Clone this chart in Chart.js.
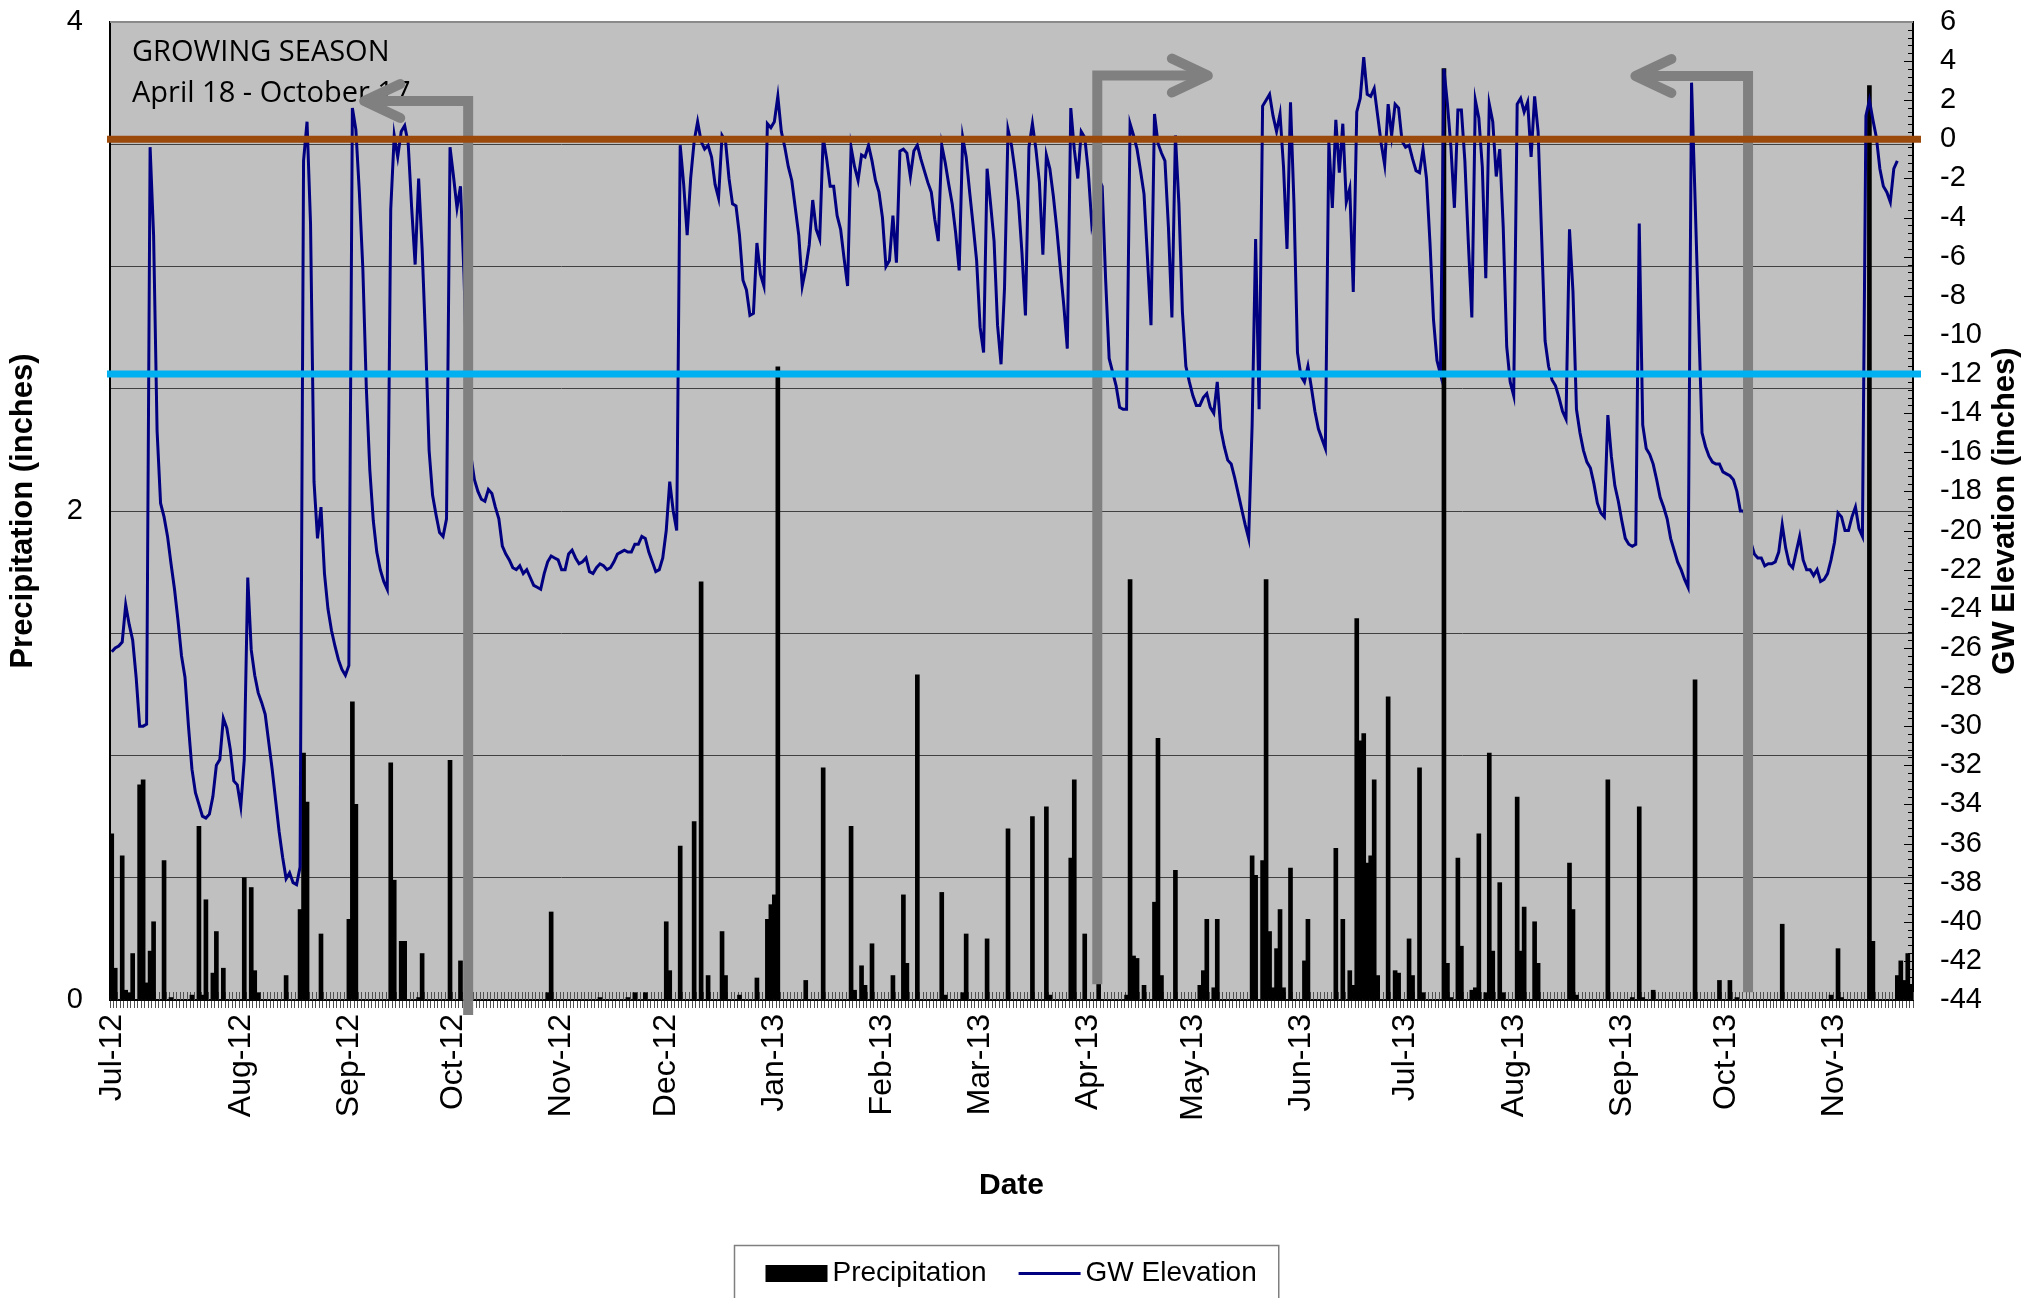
<!DOCTYPE html>
<html><head><meta charset="utf-8">
<script src="https://cdn.jsdelivr.net/npm/chart.js@4.4.0/dist/chart.umd.min.js"></script>
<style>html,body{margin:0;padding:0;background:#fff;}canvas{display:block;}</style>
</head><body>
<canvas id="c" width="2028" height="1298"></canvas>
<script>
// ---------- data ----------
const startDate = '2012-06-25';
const dayCount = 517;
const monthTickDates = ['2012-06-25','2012-08-01','2012-09-01','2012-10-01','2012-11-01','2012-12-01','2013-01-01','2013-02-01','2013-03-01','2013-04-01','2013-05-01','2013-06-01','2013-07-01','2013-08-01','2013-09-01','2013-10-01','2013-11-01'];
const monthTickLabels = ['Jul-12','Aug-12','Sep-12','Oct-12','Nov-12','Dec-12','Jan-13','Feb-13','Mar-13','Apr-13','May-13','Jun-13','Jul-13','Aug-13','Sep-13','Oct-13','Nov-13'];

// GW elevation (inches), one value per day from startDate
const gwElevation = [
-26.2,-26.0,-25.9,-25.7,-23.8,-24.8,-25.6,-27.5,-30.0,-30.0,
-29.9,-0.4,-4.9,-14.9,-18.6,-19.3,-20.3,-21.7,-23.0,-24.6,
-26.4,-27.5,-30.0,-32.2,-33.4,-34.0,-34.6,-34.7,-34.5,-33.6,
-32.0,-31.7,-29.6,-30.1,-31.2,-32.8,-33.0,-34.1,-31.7,-22.4,
-26.1,-27.4,-28.3,-28.8,-29.4,-30.8,-32.2,-33.8,-35.4,-36.7,
-37.8,-37.5,-38.0,-38.1,-37.2,-1.1,0.9,-4.3,-17.5,-20.4,
-18.8,-22.2,-24.0,-25.1,-25.9,-26.6,-27.1,-27.4,-26.9,1.6,
0.5,-2.7,-6.6,-12.7,-16.9,-19.5,-21.1,-22.0,-22.6,-23.0,
-3.6,0.2,-0.9,0.4,0.7,-0.2,-3.5,-6.4,-2.0,-5.6,
-10.3,-15.9,-18.2,-19.2,-20.1,-20.3,-19.4,-0.4,-1.9,-3.5,
-2.4,-6.9,-13.0,-16.2,-17.4,-18.0,-18.4,-18.5,-17.9,-18.1,
-18.8,-19.4,-20.8,-21.2,-21.5,-21.9,-22.0,-21.8,-22.2,-22.0,
-22.4,-22.8,-22.9,-23.0,-22.2,-21.6,-21.3,-21.4,-21.5,-22.0,
-22.0,-21.2,-21.0,-21.4,-21.7,-21.6,-21.4,-22.1,-22.2,-21.9,
-21.7,-21.8,-22.0,-21.9,-21.6,-21.2,-21.1,-21.0,-21.1,-21.1,
-20.7,-20.7,-20.3,-20.4,-21.1,-21.6,-22.1,-22.0,-21.4,-20.0,
-17.5,-19.0,-20.0,-0.3,-2.3,-4.9,-2.0,-0.1,0.9,-0.1,
-0.5,-0.3,-0.9,-2.3,-3.0,0.2,-0.1,-2.0,-3.3,-3.4,
-4.9,-7.2,-7.7,-9.0,-8.9,-5.3,-6.9,-7.5,0.8,0.6,
0.9,2.2,0.4,-0.4,-1.4,-2.1,-3.5,-4.9,-7.5,-6.6,
-5.4,-3.1,-4.6,-5.1,0.1,-1.0,-2.4,-2.4,-3.9,-4.6,
-6.1,-7.5,-0.4,-1.4,-2.1,-0.8,-0.9,-0.3,-1.1,-2.1,
-2.7,-4.0,-6.5,-6.2,-3.9,-6.3,-0.6,-0.5,-0.7,-1.9,
-0.6,-0.3,-1.0,-1.6,-2.2,-2.7,-4.1,-5.2,-0.3,-1.2,
-2.3,-3.3,-4.8,-6.7,0.1,-0.9,-2.7,-4.4,-6.2,-9.6,
-10.9,-1.5,-3.3,-5.2,-9.5,-11.5,-7.6,0.5,-0.3,-1.6,
-3.2,-5.8,-9.0,-0.4,0.8,-0.5,-2.2,-5.9,-0.8,-1.5,
-2.9,-4.6,-6.6,-8.5,-10.7,1.6,-0.5,-2.0,0.4,0.1,
-1.6,-4.3,-3.3,-2.0,-2.4,-7.2,-11.2,-11.9,-12.6,-13.7,
-13.8,-13.8,0.8,0.2,-0.5,-1.6,-2.8,-6.1,-9.5,1.3,
-0.2,-0.7,-1.1,-4.5,-9.1,0.2,-3.3,-8.8,-11.6,-12.4,
-13.1,-13.6,-13.6,-13.2,-13.0,-13.7,-14.0,-12.4,-14.8,-15.7,
-16.4,-16.6,-17.3,-18.1,-18.9,-19.7,-20.4,-14.6,-5.1,-13.8,
1.7,2.0,2.3,1.2,0.4,1.3,-1.4,-5.6,1.9,-3.3,
-10.9,-12.1,-12.4,-11.6,-12.7,-13.9,-14.8,-15.3,-15.8,-0.1,
-3.5,1.0,-1.7,0.8,-3.2,-2.5,-7.8,1.4,2.1,4.2,
2.3,2.2,2.6,1.2,-0.2,-1.3,1.8,0.2,1.8,1.6,
-0.1,-0.4,-0.3,-1.0,-1.6,-1.7,-0.5,-2.0,-5.3,-9.2,
-11.3,-12.0,3.6,1.8,-0.4,-3.5,1.5,1.5,-1.1,-5.3,
-9.1,2.0,1.1,-1.4,-7.1,1.8,0.9,-1.9,-0.5,-4.5,
-10.6,-12.4,-13.1,1.8,2.1,1.4,1.9,-0.9,2.2,0.4,
-4.9,-10.3,-11.6,-12.3,-12.6,-13.2,-13.9,-14.3,-4.6,-7.8,
-13.8,-15.0,-15.9,-16.5,-16.8,-17.6,-18.6,-19.1,-19.3,-14.1,
-16.2,-17.7,-18.5,-19.5,-20.4,-20.7,-20.8,-20.7,-4.3,-14.6,
-15.8,-16.1,-16.6,-17.4,-18.3,-18.8,-19.4,-20.4,-21.0,-21.6,
-22.0,-22.5,-22.9,2.9,-3.0,-9.1,-15.0,-15.7,-16.2,-16.5,
-16.6,-16.6,-17.0,-17.1,-17.2,-17.4,-18.0,-19.0,-19.0,-19.8,
-20.6,-21.2,-21.4,-21.4,-21.8,-21.7,-21.7,-21.6,-21.1,-19.7,
-20.9,-21.7,-21.9,-21.1,-20.3,-21.5,-22.0,-22.0,-22.3,-22.0,
-22.6,-22.5,-22.2,-21.5,-20.6,-19.1,-19.3,-20.0,-20.0,-19.3,
-18.8,-19.9,-20.3,1.2,2.0,1.0,0.1,-1.5,-2.4,-2.7,
-3.2,-1.5,-1.1
];

// Precipitation (inches): day offsets from startDate with rain, and amounts
const precipDay = [0,1,3,4,5,6,8,9,10,11,12,15,17,23,25,26,27,29,30,32,38,40,41,42,50,54,55,56,60,68,69,70,80,81,83,84,88,89,97,100,125,126,140,148,150,153,159,160,163,167,169,171,175,176,180,185,188,189,190,191,199,204,212,213,215,216,218,224,227,228,231,238,239,244,245,251,257,264,268,269,275,276,279,283,291,292,293,294,296,299,300,301,305,312,313,314,316,317,327,328,330,331,332,333,334,335,336,338,342,343,351,353,355,356,357,358,359,360,361,362,363,366,368,369,372,373,375,376,382,383,384,386,387,390,391,392,394,395,396,398,399,403,404,405,408,409,418,419,420,429,436,438,439,442,454,461,464,466,479,493,495,496,504,505,512,513,514,515,516];
const precipInches = [0.68,0.13,0.59,0.04,0.03,0.19,0.88,0.90,0.07,0.20,0.32,0.57,0.01,0.02,0.71,0.02,0.41,0.11,0.28,0.13,0.50,0.46,0.12,0.03,0.10,0.37,1.01,0.81,0.27,0.33,1.22,0.80,0.97,0.49,0.24,0.24,0.01,0.19,0.98,0.16,0.03,0.36,0.01,0.01,0.03,0.03,0.32,0.12,0.63,0.73,1.71,0.10,0.28,0.10,0.02,0.09,0.33,0.39,0.43,2.59,0.08,0.95,0.71,0.04,0.14,0.06,0.23,0.10,0.43,0.15,1.33,0.44,0.02,0.03,0.27,0.25,0.70,0.75,0.79,0.02,0.58,0.90,0.27,0.33,0.02,1.72,0.18,0.17,0.06,0.40,1.07,0.10,0.53,0.06,0.12,0.33,0.05,0.33,0.59,0.51,0.57,1.72,0.28,0.05,0.21,0.37,0.05,0.54,0.16,0.33,0.62,0.33,0.12,0.06,1.56,1.06,1.09,0.56,0.59,0.90,0.10,1.24,0.12,0.11,0.25,0.10,0.95,0.03,3.81,0.15,0.01,0.58,0.22,0.04,0.05,0.68,0.03,1.01,0.20,0.48,0.03,0.83,0.20,0.38,0.32,0.15,0.56,0.37,0.02,0.90,0.01,0.79,0.01,0.04,1.31,0.08,0.08,0.01,0.31,0.02,0.21,0.01,3.74,0.24,0.10,0.16,0.08,0.19,0.06];

// Reference levels on the GW axis
const refLevels = [0, -12];
const refColors = ['#9b4a0c', '#00b0f0'];

// Growing-season arrows (stem day offset, tip day offset, top/bottom on GW axis)
const arrowStem = [102.2, 282.6, 469.2];
const arrowTip = [72.4, 314.3, 436.9];
const arrowTop = [1.96, 3.26, 3.24];
const arrowBottom = [-44.77, -43.2, -43.6];

const noteLines = ['GROWING SEASON', 'April 18 - October 17'];

// ---------- build ----------
const categories = [];
(function(){
  const p = startDate.split('-').map(Number);
  const t0 = Date.UTC(p[0], p[1]-1, p[2]);
  for (let k = 0; k < dayCount; k++) categories.push(new Date(t0 + k*86400000).toISOString().slice(0,10));
})();
const tickLabelByDate = {};
monthTickDates.forEach((d,k) => { tickLabelByDate[d] = monthTickLabels[k]; });
const precipSeries = categories.map(() => null);
precipDay.forEach((d,k) => { precipSeries[d] = precipInches[k]; });

const FAM = '"Liberation Sans", Arial, Helvetica, sans-serif';
const TITLE_SIZE = 31;

const decor = {
  id: 'decor',
  beforeDraw(chart) {
    const {ctx, chartArea: a} = chart;
    ctx.save();
    ctx.fillStyle = '#ffffff';
    ctx.fillRect(0, 0, chart.width, chart.height);
    ctx.fillStyle = '#c0c0c0';
    ctx.fillRect(a.left, a.top, a.right - a.left, a.bottom - a.top);
    ctx.restore();
  },
  beforeDatasetsDraw(chart) {
    const {ctx, chartArea: a, scales} = chart;
    const x = scales.x, y2 = scales.y2;
    ctx.save();
    ctx.strokeStyle = '#505050';
    ctx.lineWidth = 1;
    ctx.beginPath();
    for (let k = 0; k <= categories.length; k++) {
      const px = Math.round(x.getPixelForValue(k - 0.5)) + 0.5;
      ctx.moveTo(px, a.bottom - 8);
      ctx.lineTo(px, a.bottom);
    }
    ctx.stroke();
    ctx.strokeStyle = '#000';
    ctx.beginPath();
    y2.ticks.forEach(t => {
      const py = Math.round(y2.getPixelForValue(t.value)) + 0.5;
      const len = t.label ? 9 : 5;
      ctx.moveTo(a.right - len, py);
      ctx.lineTo(a.right, py);
    });
    ctx.stroke();
    ctx.strokeStyle = '#8a8a8a';
    ctx.lineWidth = 2;
    ctx.beginPath();
    ctx.moveTo(a.left, a.top);
    ctx.lineTo(a.right, a.top);
    ctx.stroke();
    ctx.restore();
  },
  afterDatasetsDraw(chart) {
    const {ctx, chartArea: a, scales} = chart;
    const x = scales.x, y2 = scales.y2;
    ctx.save();
    ctx.fillStyle = '#000';
    ctx.font = '29px "Open Sans", "Liberation Sans", sans-serif';
    ctx.textAlign = 'left';
    ctx.textBaseline = 'alphabetic';
    ctx.fillText(noteLines[0], a.left + 22, a.top + 39);
    ctx.fillText(noteLines[1], a.left + 22, a.top + 80);
    ctx.strokeStyle = '#808080';
    ctx.lineWidth = 10;
    for (let k = 0; k < arrowStem.length; k++) {
      const sx = x.getPixelForValue(arrowStem[k]);
      const tx = x.getPixelForValue(arrowTip[k]);
      const ty = y2.getPixelForValue(arrowTop[k]);
      const by = y2.getPixelForValue(arrowBottom[k]);
      ctx.lineCap = 'butt';
      ctx.lineJoin = 'miter';
      ctx.beginPath();
      ctx.moveTo(sx, by);
      ctx.lineTo(sx, ty);
      ctx.lineTo(tx, ty);
      ctx.stroke();
      const dir = sx > tx ? 1 : -1;
      ctx.lineCap = 'round';
      ctx.lineJoin = 'round';
      ctx.beginPath();
      ctx.moveTo(tx + dir*36, ty - 17);
      ctx.lineTo(tx, ty);
      ctx.lineTo(tx + dir*36, ty + 17);
      ctx.stroke();
    }
    ctx.lineCap = 'butt';
    ctx.lineWidth = 7;
    refLevels.forEach((lv, k) => {
      const py = y2.getPixelForValue(lv);
      ctx.strokeStyle = refColors[k];
      ctx.beginPath();
      ctx.moveTo(a.left - 3, py);
      ctx.lineTo(a.right + 8, py);
      ctx.stroke();
    });
    ctx.restore();
  },
  afterDraw(chart) {
    const {ctx, chartArea: a, scales} = chart;
    const y2 = scales.y2;
    ctx.save();
    ctx.fillStyle = '#000';
    ctx.font = 'bold ' + TITLE_SIZE + 'px ' + FAM;
    ctx.textAlign = 'center';
    ctx.textBaseline = 'middle';
    ctx.translate(y2.right - 23, (y2.top + y2.bottom) / 2);
    ctx.rotate(-Math.PI / 2);
    ctx.fillText('GW Elevation (inches)', 0, 0);
    ctx.restore();

    const ds = chart.data.datasets;
    const barDs = ds.find(d => d.type === 'bar');
    const lineDs = ds.find(d => d.type === 'line');
    ctx.save();
    ctx.font = '28px ' + FAM;
    const padL = 31, padR = 22, sw = 62, gap = 5, itemGap = 32;
    const w1 = ctx.measureText(barDs.label).width;
    const w2 = ctx.measureText(lineDs.label).width;
    const W = padL + sw + gap + w1 + itemGap + sw + gap + w2 + padR;
    const cx = (a.left + a.right) / 2 - 5;
    const left = Math.round(cx - W / 2) + 0.5;
    const top = Math.round(a.bottom + 245) + 0.5;
    ctx.fillStyle = '#fff';
    ctx.fillRect(left, top, W, 80);
    ctx.strokeStyle = '#7f7f7f';
    ctx.lineWidth = 1.5;
    ctx.strokeRect(left, top, W, 80);
    const cy = top + 28;
    let xx = left + padL;
    ctx.fillStyle = barDs.backgroundColor;
    ctx.fillRect(xx, cy - 8.5, sw, 17);
    xx += sw + gap;
    ctx.fillStyle = '#000';
    ctx.textAlign = 'left';
    ctx.textBaseline = 'middle';
    ctx.fillText(barDs.label, xx, cy);
    xx += w1 + itemGap;
    ctx.strokeStyle = lineDs.borderColor;
    ctx.lineWidth = 3;
    ctx.beginPath();
    ctx.moveTo(xx, cy);
    ctx.lineTo(xx + sw, cy);
    ctx.stroke();
    xx += sw + gap;
    ctx.fillText(lineDs.label, xx, cy);
    ctx.restore();
  }
};

new Chart(document.getElementById('c').getContext('2d'), {
  type: 'bar',
  data: {
    labels: categories,
    datasets: [
      {type: 'line', label: 'GW Elevation', data: gwElevation, yAxisID: 'y2',
       borderColor: '#000080', borderWidth: 3, pointRadius: 0, fill: false, tension: 0, order: 0},
      {type: 'bar', label: 'Precipitation', data: precipSeries, yAxisID: 'y',
       backgroundColor: '#000000', barThickness: 4, order: 1}
    ]
  },
  options: {
    responsive: false,
    animation: false,
    devicePixelRatio: 1,
    events: [],
    layout: {padding: {left: 0, right: 0, top: 22, bottom: 88}},
    plugins: {legend: {display: false}, tooltip: {enabled: false}},
    scales: {
      x: {
        type: 'category',
        offset: true,
        grid: {display: true, drawOnChartArea: false, drawTicks: true, tickLength: 8, color: '#505050', lineWidth: 1, offset: true},
        border: {display: true, color: '#000', width: 2},
        ticks: {
          autoSkip: false, maxRotation: 90, minRotation: 90, padding: 6, color: '#000',
          font: {family: FAM, size: 32},
          callback: function(value) { const d = this.getLabelForValue(value); return tickLabelByDate[d] || ''; }
        },
        title: {display: true, text: 'Date', color: '#000', font: {family: FAM, size: 30, weight: 'bold'}, padding: {top: 0, bottom: 6}},
        afterFit(s) { s.height = 210; s.paddingLeft = 0; s.paddingRight = 0; }
      },
      y: {
        position: 'left', min: 0, max: 4,
        ticks: {stepSize: 0.5, autoSkip: false, padding: 27, color: '#000', font: {family: FAM, size: 29},
          callback: v => (Math.abs(v % 2) < 1e-9 ? String(v) : '')},
        grid: {drawTicks: false, lineWidth: 1,
          color: c => (c.tick && c.tick.value === 4) ? 'rgba(0,0,0,0)' : '#404040'},
        border: {display: true, color: '#000', width: 2},
        title: {display: true, text: 'Precipitation (inches)', color: '#000', font: {family: FAM, size: TITLE_SIZE, weight: 'bold'}, padding: {top: 5, bottom: 0}},
        afterFit(s) { s.width = 110; s.paddingTop = 0; s.paddingBottom = 0; }
      },
      y2: {
        position: 'right', min: -44, max: 6,
        ticks: {stepSize: 0.4, autoSkip: false, padding: 27, color: '#000', font: {family: FAM, size: 29},
          callback: v => { const r = Math.round(v); return (Math.abs(v - r) < 1e-6 && r % 2 === 0) ? String(r) : ''; }},
        grid: {drawOnChartArea: false, drawTicks: false},
        border: {display: true, color: '#000', width: 2},
        afterFit(s) { s.width = 115; s.paddingTop = 0; s.paddingBottom = 0; }
      }
    }
  },
  plugins: [decor]
});
</script>
</body></html>
